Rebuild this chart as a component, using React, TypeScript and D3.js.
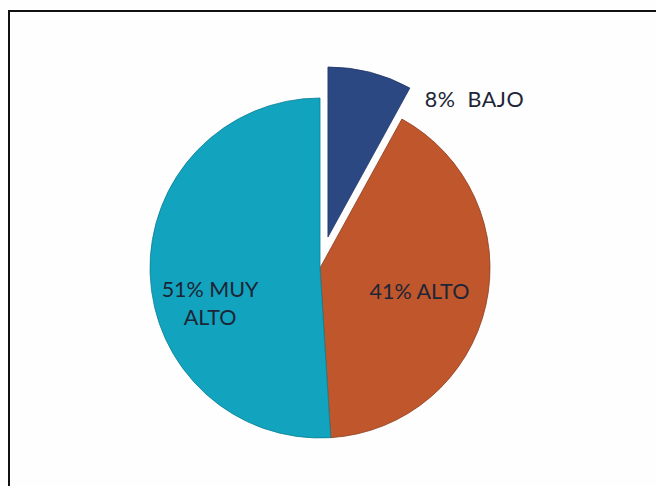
import React, { useEffect, useRef } from 'react'
import * as d3 from 'd3'

// slices clockwise from 12 o'clock
const categories = ['BAJO', 'ALTO', 'MUY ALTO']
const values = [8, 41, 51]
const labelLines = [['8%  BAJO'], ['41% ALTO'], ['51% MUY', 'ALTO']]
const colors = ['#2B4883', '#C0562C', '#12A3BE']
const strokes = ['#1f3566', '#8e3c1c', '#0b7f95']

export default function App() {
  const svgRef = useRef<SVGSVGElement>(null)

  useEffect(() => {
    if (!svgRef.current) return
    const svg = d3.select(svgRef.current)
    svg.selectAll('*').remove()

    const width = 656
    const height = 486
    const cx = 320
    const cy = 268
    const radius = 170
    const explode = 32

    svg.attr('width', width).attr('height', height)

    svg.append('rect')
      .attr('width', width)
      .attr('height', height)
      .attr('fill', '#fefefe')

    // frame: only the left and top edges are in the picture
    svg.append('path')
      .attr('d', `M9,${height} V11 H${width}`)
      .attr('fill', 'none')
      .attr('stroke', '#111')
      .attr('stroke-width', 2)

    const pie = d3.pie<number>().sort(null).value(d => d)
    const arcs = pie(values)

    const arc = d3.arc<d3.PieArcDatum<number>>()
      .innerRadius(0)
      .outerRadius(radius)

    const g = svg.append('g').attr('transform', `translate(${cx},${cy})`)

    arcs.forEach((a, i) => {
      const mid = (a.startAngle + a.endAngle) / 2
      const off = categories[i] === 'BAJO' ? explode : 0
      const dx = Math.sin(mid) * off
      const dy = -Math.cos(mid) * off
      g.append('path')
        .attr('d', arc(a))
        .attr('transform', `translate(${dx},${dy})`)
        .attr('fill', colors[i])
        .attr('stroke', strokes[i])
        .attr('stroke-width', 0.8)
    })

    const fontFamily = 'Lato, "Open Sans", sans-serif'
    const fontSize = 21.5
    const textColor = '#1d2536'

    // inside labels
    const labelArc = d3.arc<d3.PieArcDatum<number>>()
      .innerRadius(105)
      .outerRadius(105)

    arcs.forEach((a, i) => {
      if (categories[i] === 'BAJO') {
        // outside label, next to the exploded slice's outer corner
        const off = explode
        const mid = (a.startAngle + a.endAngle) / 2
        const ex = Math.sin(mid) * off + Math.sin(a.endAngle) * radius
        const ey = -Math.cos(mid) * off - Math.cos(a.endAngle) * radius
        g.append('text')
          .attr('x', ex + 15)
          .attr('y', ey + 19)
          .attr('font-family', fontFamily)
          .attr('font-size', fontSize)
          .attr('fill', textColor)
          .attr('letter-spacing', 0.5)
          .style('white-space', 'pre')
          .text(labelLines[i][0])
        return
      }
      const [lx, ly] = labelArc.centroid(a)
      const lines = labelLines[i]
      const lineH = 28
      const nudgeY = lines.length > 1 ? 40 : 8
      const startY = ly + nudgeY - ((lines.length - 1) * lineH) / 2
      const t = g.append('text')
        .attr('font-family', fontFamily)
        .attr('font-size', fontSize)
        .attr('fill', textColor)
        .attr('text-anchor', 'middle')
      lines.forEach((line, j) => {
        t.append('tspan')
          .attr('x', lx + (lines.length > 1 ? -5 : -3))
          .attr('y', startY + j * lineH)
          .text(line)
      })
    })
  }, [])

  return (
    <svg
      ref={svgRef}
      style={{ position: 'absolute', left: 0, top: 0, display: 'block' }}
    />
  )
}
